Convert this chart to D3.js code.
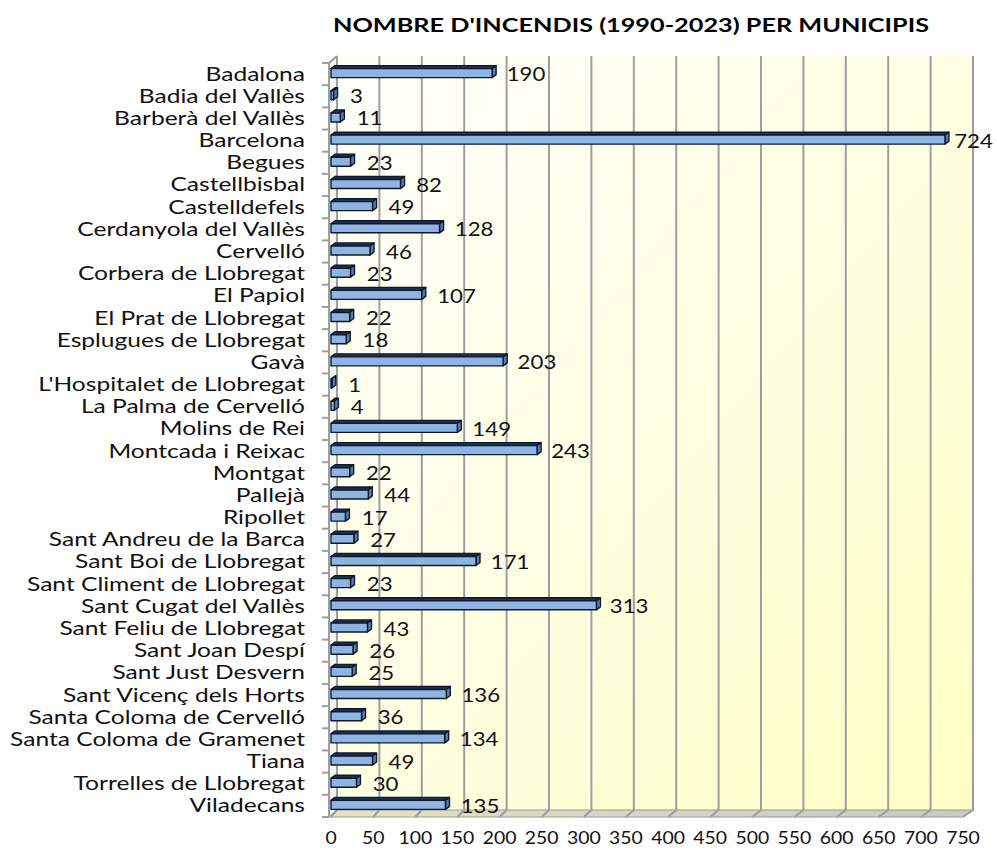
<!DOCTYPE html>
<html>
<head>
<meta charset="utf-8">
<script src="https://cdn.jsdelivr.net/npm/d3@7/dist/d3.min.js"></script>
<style>
  html, body { margin: 0; padding: 0; background: #ffffff; }
  svg { display: block; }
</style>
</head>
<body>
<svg id="chart" width="997" height="850"></svg>
<script>
// Fires per municipality, 1990-2023
const municipis = [
  "Badalona", "Badia del Vallès", "Barberà del Vallès", "Barcelona", "Begues",
  "Castellbisbal", "Castelldefels", "Cerdanyola del Vallès", "Cervelló ",
  "Corbera de Llobregat", "El Papiol", "El Prat de Llobregat",
  "Esplugues de Llobregat", "Gavà", "L'Hospitalet de Llobregat",
  "La Palma de Cervelló", "Molins de Rei", "Montcada i Reixac", "Montgat",
  "Pallejà", "Ripollet ", "Sant Andreu de la Barca", "Sant Boi de Llobregat",
  "Sant Climent de Llobregat", "Sant Cugat del Vallès", "Sant Feliu de Llobregat",
  "Sant Joan Despí", "Sant Just Desvern", "Sant Vicenç dels Horts",
  "Santa Coloma de Cervelló", "Santa Coloma de Gramenet", "Tiana",
  "Torrelles de Llobregat", "Viladecans"
];
const incendis = [
  190, 3, 11, 724, 23, 82, 49, 128, 46, 23, 107, 22, 18, 203, 1, 4, 149, 243,
  22, 44, 17, 27, 171, 23, 313, 43, 26, 25, 136, 36, 134, 49, 30, 135
];
const ticks = [0, 50, 100, 150, 200, 250, 300, 350, 400, 450, 500, 550, 600, 650, 700, 750];
const titol = "NOMBRE D'INCENDIS (1990-2023) PER MUNICIPIS";

const svg = d3.select("#chart");
const FONT = "Lato, 'Open Sans', sans-serif";

// 3D frame geometry: front plane and the receding back wall
const yTop = 63, yBottom = 817;         // front plane vertical extent
const dy = -7;                          // depth offset of back wall

const x = d3.scaleLinear().domain([0, 750]).range([331, 967]);
const xBack = d3.scaleLinear().domain([0, 750]).range([337, 973]);
// label anchor: sits beyond the bar end, drawn in perspective on the back plane
const xLabel = d3.scaleLinear().domain([0, 750]).range([347.5, 976]);
const y = d3.scaleBand().domain(municipis).range([yTop, yBottom]).paddingInner(0).paddingOuter(0);

const defs = svg.append("defs");
const wallGrad = defs.append("linearGradient").attr("id", "wall")
  .attr("x1", "0").attr("y1", "0").attr("x2", "1").attr("y2", "1");
wallGrad.append("stop").attr("offset", "0").attr("stop-color", "#fffffb");
wallGrad.append("stop").attr("offset", "0.45").attr("stop-color", "#ffffe6");
wallGrad.append("stop").attr("offset", "1").attr("stop-color", "#ffffc4");

const floorGrad = defs.append("linearGradient").attr("id", "floor")
  .attr("x1", "0").attr("y1", "0").attr("x2", "1").attr("y2", "0");
floorGrad.append("stop").attr("offset", "0").attr("stop-color", "#e2e2c4");
floorGrad.append("stop").attr("offset", "1").attr("stop-color", "#c9c9c0");

const wallTop = yTop + dy, wallBottom = yBottom + dy;

// back wall
svg.append("rect")
  .attr("x", xBack(0)).attr("y", wallTop)
  .attr("width", xBack(750) - xBack(0)).attr("height", wallBottom - wallTop)
  .attr("fill", "url(#wall)");

// left side wall
svg.append("path")
  .attr("d", `M${x(0) - 2},${yTop} L${xBack(0)},${wallTop} L${xBack(0)},${wallBottom} L${x(0) - 2},${yBottom} Z`)
  .attr("fill", "#f6f6f0");

// floor
svg.append("path")
  .attr("d", `M${x(0) - 2},${yBottom} L${xBack(0)},${wallBottom} L${xBack(750)},${wallBottom} L${x(750) - 4},${yBottom} Z`)
  .attr("fill", "url(#floor)").attr("stroke", "#9a9a9a").attr("stroke-width", 1.2);

// vertical gridlines on the back wall, continued across the floor
const grid = svg.append("g").attr("stroke", "#9e9e9e").attr("stroke-width", 2).attr("fill", "none");
ticks.forEach(t => {
  grid.append("path")
    .attr("d", `M${xBack(t)},${wallTop} L${xBack(t)},${wallBottom} L${x(t) - 4 * t / 750},${yBottom}`);
});

// left wall edges and category axis
const axis = svg.append("g").attr("stroke", "#9e9e9e").attr("stroke-width", 2).attr("fill", "none");
axis.append("path").attr("d", `M${x(0) - 2},${yTop} L${xBack(0)},${wallTop}`);
axis.append("path").attr("d", `M${x(0) - 2},${yTop} L${x(0) - 2},${yBottom}`);
municipis.concat([null]).forEach(m => {
  const yy = m === null ? yBottom : y(m);
  axis.append("line").attr("x1", x(0) - 9).attr("x2", x(0) - 2).attr("y1", yy).attr("y2", yy);
});

// 3D bars
const barH = 9, bdx = 4, bdy = -3;
const bars = svg.append("g");
municipis.forEach((m, i) => {
  const v = incendis[i];
  const x0 = x(0), x1 = x(v);
  const cy = y(m) + y.bandwidth() / 2 - 1;
  const yt = cy - barH / 2, yb = cy + barH / 2;
  const g = bars.append("g").attr("stroke", "#111827").attr("stroke-width", 1.4).attr("stroke-linejoin", "round");
  // top face
  g.append("path")
    .attr("d", `M${x0},${yt} L${x0 + bdx},${yt + bdy} L${x1 + bdx},${yt + bdy} L${x1},${yt} Z`)
    .attr("fill", "#1c3354");
  // end face
  g.append("path")
    .attr("d", `M${x1},${yt} L${x1 + bdx},${yt + bdy} L${x1 + bdx},${yb + bdy} L${x1},${yb} Z`)
    .attr("fill", "#4f7fb8");
  // front face
  g.append("rect")
    .attr("x", x0).attr("y", yt).attr("width", Math.max(0, x1 - x0)).attr("height", barH)
    .attr("fill", "#8db4e2");
});

// value labels
const vals = svg.append("g").attr("font-family", FONT).attr("font-size", 19.5).attr("fill", "#111");
municipis.forEach((m, i) => {
  const v = incendis[i];
  vals.append("text")
    .attr("transform", `translate(${xLabel(v)},${y(m) + y.bandwidth() / 2 + 7}) scale(1.14,1)`)
    .text(v);
});

// category labels
const cats = svg.append("g").attr("font-family", FONT).attr("font-size", 19.5).attr("fill", "#111")
  .attr("text-anchor", "end");
municipis.forEach(m => {
  cats.append("text")
    .attr("transform", `translate(305,${y(m) + y.bandwidth() / 2 + 6.5}) scale(1.26,1)`)
    .text(m);
});

// value axis labels
const xl = svg.append("g").attr("font-family", FONT).attr("font-size", 17).attr("fill", "#111")
  .attr("text-anchor", "middle");
ticks.forEach(t => {
  xl.append("text")
    .attr("transform", `translate(${331 + (963 - 331) * t / 750},844) scale(1.14,1)`)
    .text(t);
});

// title
svg.append("text")
  .attr("transform", "translate(631,32) scale(1.33,1)")
  .attr("text-anchor", "middle").attr("font-family", FONT).attr("font-weight", "bold")
  .attr("font-size", 19).attr("fill", "#000")
  .text(titol);
</script>
</body>
</html>
